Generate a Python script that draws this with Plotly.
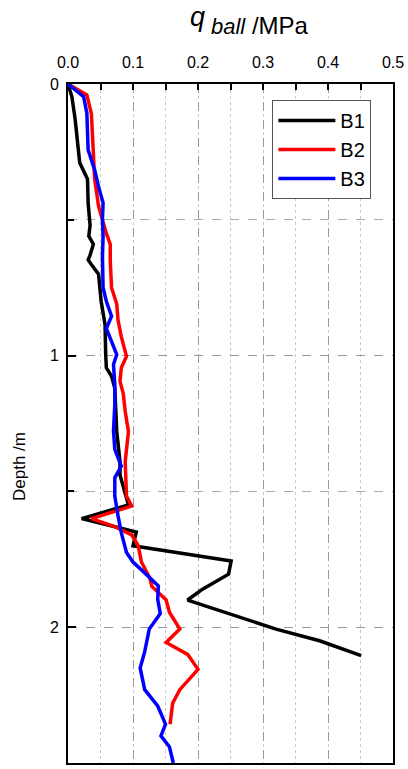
import plotly.graph_objects as go

# B1
b1_q = [0.0, 0.006, 0.011, 0.015, 0.018, 0.026, 0.030, 0.031, 0.034, 0.032, 0.039, 0.034,
        0.031, 0.036, 0.047, 0.051, 0.057, 0.058, 0.059, 0.067, 0.072, 0.075,
        0.080, 0.080, 0.088, 0.093, 0.021, 0.105, 0.100, 0.251, 0.247, 0.207, 0.184,
        0.248, 0.320, 0.387, 0.451]
b1_d = [0.0, 0.047, 0.13, 0.21, 0.29, 0.33, 0.35, 0.44, 0.52, 0.56, 0.59, 0.63,
        0.647, 0.665, 0.70, 0.80, 0.886, 0.996, 1.045, 1.076, 1.12, 1.28,
        1.39, 1.44, 1.51, 1.55, 1.60, 1.65, 1.70, 1.756, 1.805, 1.86, 1.90,
        1.95, 2.007, 2.05, 2.105]

# B2
b2_q = [0.0, 0.029, 0.036, 0.037, 0.039, 0.041, 0.047, 0.054, 0.059, 0.065, 0.065,
        0.067, 0.075, 0.077, 0.082, 0.090, 0.082, 0.080, 0.085, 0.088, 0.093,
        0.088, 0.090, 0.098, 0.036, 0.072, 0.098, 0.108, 0.113, 0.126, 0.129,
        0.151, 0.156, 0.172, 0.151, 0.184, 0.200, 0.172, 0.161, 0.157]
b2_d = [0.0, 0.04, 0.11, 0.17, 0.27, 0.35, 0.45, 0.51, 0.55, 0.59, 0.65,
        0.75, 0.81, 0.87, 0.93, 1.003, 1.045, 1.094, 1.14, 1.205, 1.28,
        1.39, 1.517, 1.554, 1.60, 1.63, 1.66, 1.70, 1.76, 1.82, 1.85,
        1.90, 1.945, 2.007, 2.056, 2.10, 2.155, 2.23, 2.28, 2.357]

# B3
b3_q = [0.0, 0.024, 0.029, 0.031, 0.036, 0.041, 0.047, 0.054, 0.053, 0.054, 0.053,
        0.054, 0.059, 0.067, 0.059, 0.067, 0.075, 0.070, 0.072, 0.072, 0.070,
        0.072, 0.082, 0.072, 0.072, 0.077, 0.082, 0.090, 0.100, 0.118, 0.139,
        0.138, 0.142, 0.125, 0.118, 0.111, 0.118, 0.138, 0.150, 0.143, 0.156, 0.162]
b3_d = [0.0, 0.047, 0.107, 0.243, 0.28, 0.316, 0.378, 0.438, 0.50, 0.56, 0.635,
        0.75, 0.80, 0.855, 0.90, 0.947, 0.996, 1.033, 1.107, 1.18, 1.278,
        1.345, 1.407, 1.45, 1.517, 1.59, 1.652, 1.725, 1.76, 1.80, 1.848,
        1.897, 1.95, 2.007, 2.09, 2.15, 2.23, 2.29, 2.357, 2.40, 2.44, 2.50]

x_ticks = [0.0, 0.1, 0.2, 0.3, 0.4, 0.5]
x_tick_text = ["0.0", "0.1", "0.2", "0.3", "0.4", "0.5"]
y_ticks = [0, 1, 2]
y_tick_text = ["0", "1", "2"]

FONT = "Liberation Sans, Arial, sans-serif"

# plot area in page pixels
L, R, T, B = 68, 394, 84, 765
W, H = 408, 769


def px(x):
    return (x - L) / (R - L)


def py(y):
    return (B - y) / (B - T)


fig = go.Figure()
for name, xs, ys, col in [("B1", b1_q, b1_d, "#000000"),
                          ("B2", b2_q, b2_d, "#ff0000"),
                          ("B3", b3_q, b3_d, "#0000ff")]:
    fig.add_trace(go.Scatter(x=xs, y=ys, mode="lines", name=name,
                             line=dict(color=col, width=3.5)))

fig.update_layout(
    width=W, height=H,
    margin=dict(l=L, r=W - R, t=T, b=H - B),
    paper_bgcolor="white", plot_bgcolor="white",
    font=dict(family=FONT, size=16, color="black"),
    showlegend=True,
    legend=dict(x=px(273), y=py(100), xanchor="left", yanchor="top",
                bgcolor="white", bordercolor="#555555", borderwidth=1,
                font=dict(size=20, family=FONT), itemwidth=57,
                tracegroupgap=0),
    xaxis=dict(side="top", range=[0, 0.5], tickvals=x_ticks, ticktext=x_tick_text,
               ticks="inside", ticklen=6, tickwidth=1.5, tickcolor="black",
               showline=True, linecolor="black", linewidth=2, mirror=True,
               showgrid=True, gridcolor="#999999", griddash="dash", gridwidth=1,
               minor=dict(dtick=0.05, showgrid=True, gridcolor="#c8c8c8",
                          griddash="dot", ticks="inside", ticklen=6, tickcolor="black"),
               zeroline=False, ticklabelstandoff=8,
               tickfont=dict(size=16, family=FONT)),
    yaxis=dict(range=[2.5, 0], tickvals=y_ticks, ticktext=y_tick_text,
               ticks="inside", ticklen=8, tickwidth=1.5, tickcolor="black",
               showline=True, linecolor="black", linewidth=2, mirror=True,
               showgrid=True, gridcolor="#999999", griddash="dash", gridwidth=1,
               minor=dict(dtick=0.5, showgrid=True, gridcolor="#aaaaaa",
                          griddash="dash", ticks="inside", ticklen=6, tickcolor="black"),
               zeroline=False, ticklabelstandoff=4,
               tickfont=dict(size=16, family=FONT)),
)

fig.add_annotation(
    text="<i>q</i>",
    xref="paper", yref="paper", x=px(198), y=py(0.5),
    xanchor="center", yanchor="top", showarrow=False, borderpad=0,
    font=dict(size=27, family=FONT, color="black"))

fig.add_annotation(
    text="<span style='font-size:22px'><i>ball</i></span> /MPa",
    xref="paper", yref="paper", x=px(209), y=py(25),
    xanchor="left", yanchor="middle", showarrow=False,
    font=dict(size=24, family=FONT, color="black"))

fig.add_annotation(
    text="Depth /m", textangle=-90,
    xref="paper", yref="paper", x=px(20), y=py(468),
    xanchor="center", yanchor="middle", showarrow=False,
    font=dict(size=17, family=FONT, color="black"))

fig.write_html("out.html",
               config={"displayModeBar": False},
               post_script="document.body.style.margin='0';document.body.style.overflow='hidden';")
